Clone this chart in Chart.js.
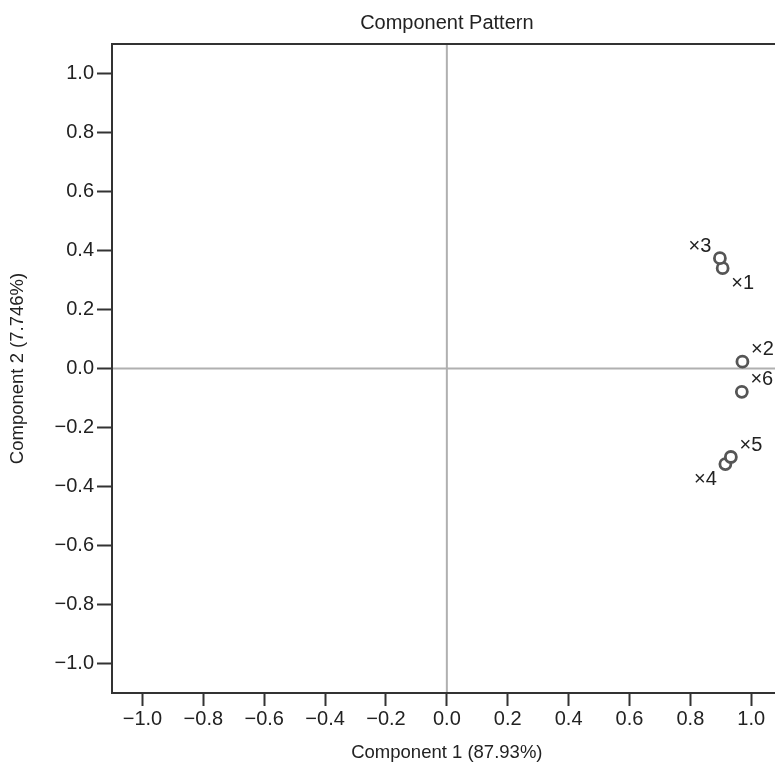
<!DOCTYPE html>
<html>
<head>
<meta charset="utf-8">
<script src="https://cdn.jsdelivr.net/npm/chart.js@4"></script>
<style>
html,body{margin:0;padding:0;background:#fff;overflow:hidden;}
#wrap{width:790px;height:767px;}
</style>
</head>
<body>
<div id="wrap"><canvas id="c" width="790" height="767"></canvas></div>
<script>
// ---- data ----
const variableNames = ['1', '2', '3', '4', '5', '6'];
const component1 = [0.906, 0.971, 0.897, 0.915, 0.933, 0.969];
const component2 = [0.340, 0.023, 0.374, -0.324, -0.300, -0.079];
const tickValues = [-1.0, -0.8, -0.6, -0.4, -0.2, 0.0, 0.2, 0.4, 0.6, 0.8, 1.0];
const chartTitle = 'Component Pattern';
const xTitle = 'Component 1 (87.93%)';
const yTitle = 'Component 2 (7.746%)';

// label placement per variable (style only)
const labelPlacement = ['br', 'tr', 'tl', 'bl', 'tr', 'tr'];

const FONT = "'Liberation Sans', Arial, Helvetica, sans-serif";
const FS = 20;
const FT = 18.5;
const TXT = '#222';

function fmt(v) {
  const s = Math.abs(v).toFixed(1);
  return (v < -1e-9 ? '\u2212' : '') + s;
}

const points = component1.map((x, i) => ({ x: x, y: component2[i] }));

const framePlugin = {
  id: 'frame',
  afterDraw(chart) {
    const { ctx, chartArea: a } = chart;
    ctx.save();
    ctx.strokeStyle = '#333';
    ctx.lineWidth = 2;
    ctx.strokeRect(a.left, a.top, a.right - a.left, a.bottom - a.top);
    // title
    ctx.fillStyle = TXT;
    ctx.font = FS + 'px ' + FONT;
    ctx.textAlign = 'center';
    ctx.textBaseline = 'middle';
    ctx.fillText(chartTitle, (a.left + a.right) / 2, 23);
    // point labels
    const meta = chart.getDatasetMeta(0);
    meta.data.forEach((el, i) => {
      const p = labelPlacement[i];
      const dx = p[1] === 'r' ? 20 : -20;
      const dy = p[0] === 'b' ? 15 : -12;
      ctx.fillText('\u00d7' + variableNames[i], el.x + dx, el.y + dy);
    });
    ctx.restore();
  }
};

const zeroPlugin = {
  id: 'zero',
  beforeDatasetsDraw(chart) {
    const { ctx, chartArea: a, scales } = chart;
    const x0 = scales.x.getPixelForValue(0);
    const y0 = scales.y.getPixelForValue(0);
    ctx.save();
    ctx.strokeStyle = '#b0b0b0';
    ctx.lineWidth = 2;
    ctx.beginPath();
    ctx.moveTo(x0, a.top); ctx.lineTo(x0, a.bottom);
    ctx.moveTo(a.left, y0); ctx.lineTo(a.right, y0);
    ctx.stroke();
    ctx.restore();
  }
};

new Chart(document.getElementById('c'), {
  type: 'scatter',
  data: {
    datasets: [{
      data: points,
      pointStyle: 'circle',
      pointRadius: 5.5,
      pointHoverRadius: 5.5,
      borderWidth: 2.8,
      borderColor: '#555',
      backgroundColor: '#fff'
    }]
  },
  options: {
    responsive: false,
    animation: false,
    devicePixelRatio: 1,
    layout: { padding: { top: 44, right: 7, left: 0, bottom: 0 } },
    plugins: { legend: { display: false }, tooltip: { enabled: false }, title: { display: false } },
    scales: {
      x: {
        type: 'linear', min: -1.1, max: 1.1,
        afterBuildTicks: s => { s.ticks = tickValues.map(v => ({ value: v })); },
        afterFit: s => { s.height = 74; },
        ticks: { callback: v => fmt(v), color: TXT, font: { family: FONT, size: FS }, padding: 1, maxRotation: 0, autoSkip: false },
        grid: { drawOnChartArea: false, drawTicks: true, tickLength: 13, tickWidth: 2, tickColor: '#333' },
        border: { display: false },
        title: { display: true, text: xTitle, color: TXT, font: { family: FONT, size: FT }, padding: { top: 0, bottom: 3 } }
      },
      y: {
        type: 'linear', min: -1.1, max: 1.1,
        afterBuildTicks: s => { s.ticks = tickValues.map(v => ({ value: v })); },
        afterFit: s => { s.width = 112; },
        ticks: { callback: v => fmt(v), color: TXT, font: { family: FONT, size: FS }, padding: 3, autoSkip: false },
        grid: { drawOnChartArea: false, drawTicks: true, tickLength: 15, tickWidth: 2, tickColor: '#333' },
        border: { display: false },
        title: { display: true, text: yTitle, color: TXT, font: { family: FONT, size: FT }, padding: { top: 7, bottom: 0 } }
      }
    }
  },
  plugins: [zeroPlugin, framePlugin]
});
</script>
</body>
</html>
